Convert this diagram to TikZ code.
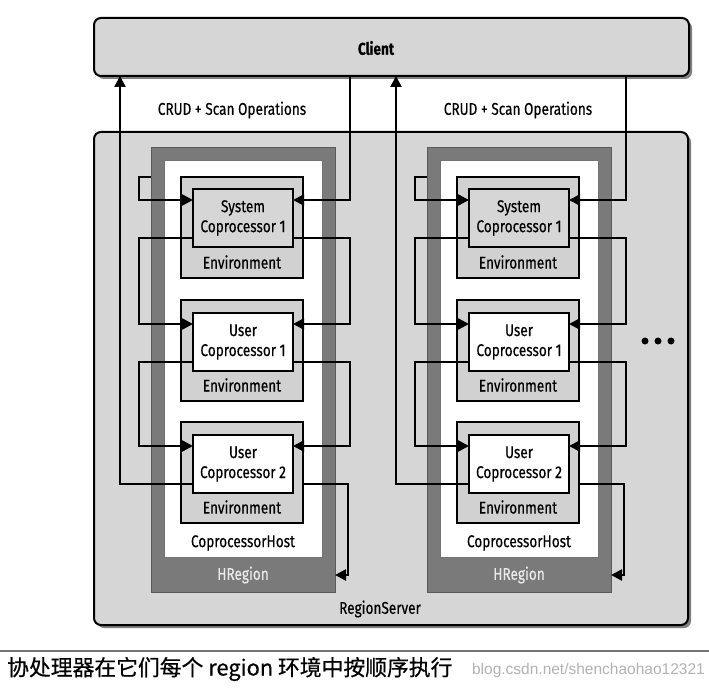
\documentclass[tikz,border=0pt]{standalone}
\usepackage{fontspec}
\setmainfont[FakeStretch=0.8,FakeBold=0.35]{Fira Sans}
\newfontfamily\cjk[FakeBold=0.6]{Noto Sans CJK SC}
\newfontfamily\wmfont{Liberation Sans}
\usetikzlibrary{arrows.meta,calc}
\definecolor{pale}{gray}{0.84}
\definecolor{envc}{gray}{0.82}
\definecolor{hregc}{gray}{0.48}
\definecolor{shadowc}{gray}{0.5}
\begin{document}
\begin{tikzpicture}[x=1pt,y=-1pt,
  lbl/.style={inner sep=0pt, font=\fontsize{17}{21}\selectfont},
  bigbox/.style={draw=black, line width=2pt, fill=pale, rounded corners=7pt, inner sep=0pt, outer sep=0pt},
  hregbox/.style={draw=black!65, line width=0.8pt, fill=hregc, inner sep=0pt, outer sep=0pt},
  hostbox/.style={draw=black!55, line width=0.6pt, fill=white, inner sep=0pt, outer sep=0pt},
  envbox/.style={draw=black, line width=1.8pt, fill=envc, inner sep=0pt, outer sep=0pt, minimum width=122pt, minimum height=101pt},
  cpbox/.style={draw=black, line width=2pt, inner sep=0pt, outer sep=0pt, minimum width=100pt, minimum height=58pt, align=center, font=\fontsize{17}{20}\selectfont},
  wire/.style={draw=black, line width=2.4pt},
  arr/.style={wire, -{Triangle[length=11pt,width=11pt]}},
  dot/.style={circle, fill=black, inner sep=0pt, minimum size=7pt}
]
\useasboundingbox (0,0) rectangle (709,700);
\fill[white] (0,0) rectangle (709,700);

% shadows
\fill[shadowc, rounded corners=7pt] (97,21) rectangle (692,79);
\fill[shadowc, rounded corners=7pt] (97,135) rectangle (691,628);

% Client and RegionServer
\node[bigbox, minimum width=595pt, minimum height=58pt] (client) at (391.5,47) {};
\node[lbl, font=\bfseries\fontsize{17}{20}\selectfont] (clientlbl) at (376,48) {Client};
\node[bigbox, minimum width=594pt, minimum height=493pt] (rs) at (391,378.5) {};
\node[lbl] (rslbl) at (380,609) {RegionServer};

\node[lbl] (crudL) at (232,110) {CRUD + Scan Operations};
\node[lbl] (crudR) at (518,110) {CRUD + Scan Operations};

\foreach \c/\dx in {L/0,R/276}{
  \node[hregbox, minimum width=184pt, minimum height=445pt] (hr\c) at (243+\dx,369.5) {};
  \node[hostbox, minimum width=158pt, minimum height=397pt] (host\c) at (243+\dx,358.5) {};
  \node[lbl, text=white!92!black] (hrlbl\c) at (243+\dx,575) {HRegion};
  \node[lbl] (hostlbl\c) at (243+\dx,543) {CoprocessorHost};
  \node[envbox] (envA\c) at (242+\dx,227.5) {};
  \node[envbox] (envB\c) at (242+\dx,350.5) {};
  \node[envbox] (envC\c) at (242+\dx,472.5) {};
  \node[lbl] (envlblA\c) at (242+\dx,262) {Environment};
  \node[lbl] (envlblB\c) at (242+\dx,385) {Environment};
  \node[lbl] (envlblC\c) at (242+\dx,507) {Environment};
  \node[cpbox, fill=pale] (sys\c) at (243+\dx,218) {System\\Coprocessor 1};
  \node[cpbox, fill=white] (ua\c) at (243+\dx,342) {User\\Coprocessor 1};
  \node[cpbox, fill=white] (ub\c) at (243+\dx,464) {User\\Coprocessor 2};
  \coordinate (up\c) at (120+\dx,0);
  % wires
  \draw[arr] (hr\c.west |- 0,177) -- ++(-12,0) |- ($(sys\c.west)+(0,-18)$);
  \draw[arr] ($(client.south)+(-41.5+\dx,0)$) |- ($(sys\c.east)+(0,-18)$);
  \draw[arr] ($(sys\c.west)+(0,20)$) -| ($(ua\c.west)+(-54,-18)$) -- ($(ua\c.west)+(0,-18)$);
  \draw[arr] ($(sys\c.east)+(0,20)$) -| ($(ua\c.east)+(57,-18)$) -- ($(ua\c.east)+(0,-18)$);
  \draw[arr] ($(ua\c.west)+(0,20)$) -| ($(ub\c.west)+(-54,-18)$) -- ($(ub\c.west)+(0,-18)$);
  \draw[arr] ($(ua\c.east)+(0,20)$) -| ($(ub\c.east)+(57,-18)$) -- ($(ub\c.east)+(0,-18)$);
  \draw[arr] ($(ub\c.west)+(0,20)$) -| (up\c |- client.south);
  \draw[arr] ($(envC\c.east |- ub\c.center)+(0,20)$) -| ($(hr\c.east |- 0,575)+(13,0)$) -- (hr\c.east |- 0,575);
}

\node[dot] (d1) at (645,341) {};
\node[dot] (d2) at (658,341) {};
\node[dot] (d3) at (671,341) {};

% caption
\draw[black!55, line width=1.3pt] (0,651) -- (709,651);
\node[anchor=east, inner sep=0pt, text=black!30, font=\wmfont\fontsize{15.5}{16}\selectfont] (wm) at (705,670) {blog.csdn.net/shenchaohao12321};
\node[anchor=west, inner sep=0pt, font=\cjk\fontsize{21.8}{22}\selectfont] (cap) at (7,669) {协处理器在它们每个 region 环境中按顺序执行};
\end{tikzpicture}
\end{document}
